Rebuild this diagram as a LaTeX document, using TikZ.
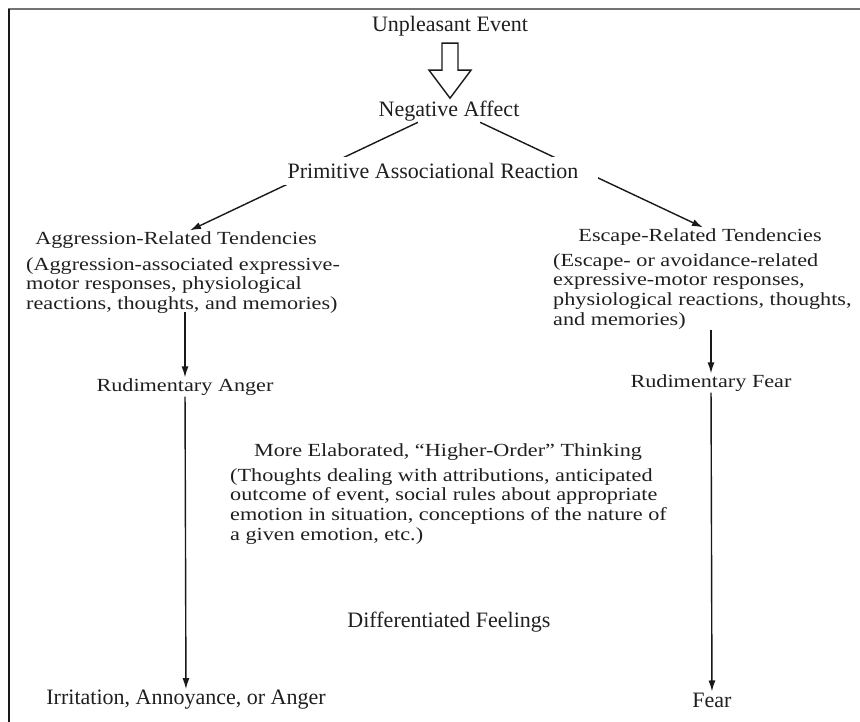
\documentclass[tikz,border=0pt]{standalone}
\usepackage{fontspec}
\usetikzlibrary{arrows.meta}
\newfontfamily\narrowserif{Liberation Serif}
\newfontfamily\bookserif{Liberation Serif}[FakeStretch=1.2]
\begin{document}
\begin{tikzpicture}
		[x=1pt,y=-1pt,
		lbl/.style={font=\narrowserif\fontsize{22}{24}\selectfont,text=black!88,inner sep=1pt},
		head/.style={font=\bookserif\fontsize{18.5}{20}\selectfont,text=black!88,inner sep=1pt},
		note/.style={font=\bookserif\fontsize{18.5}{19.8}\selectfont,text=black!88,align=left,inner sep=1pt,anchor=north west},
		link/.style={black!90,line width=1.4pt},>={Latex[length=11pt,width=7pt]}]
		\useasboundingbox (0,0) rectangle (860,722);
		\draw[black!55,line width=2pt] (8,9)--(860,9);
		\draw[black!90,line width=1.3pt] (9,9)--(9,722);
		\node[lbl,name=ue]at(450,26){Unpleasant Event};
		\node[lbl,name=neg]at(449,111){Negative Affect};
		\node[head,name=agg]at(176,240){Aggression-Related Tendencies};
		\node[note,name=aggnote]at(25,256){(Aggression-associated expressive-\\motor responses, physiological\\reactions, thoughts, and memories)};
		\node[head,name=esc]at(700,237){Escape-Related Tendencies};
		\node[note,name=escnote]at(552,252){(Escape- or avoidance-related\\expressive-motor responses,\\physiological reactions, thoughts,\\and memories)};
		\node[head,name=ranger]at(185,387){Rudimentary Anger};
		\node[head,name=rfear]at(711,383){Rudimentary Fear};
		\node[head,name=think]at(448,452){More Elaborated, “Higher-Order” Thinking};
		\node[note,name=thinknote]at(229,467){(Thoughts dealing with attributions, anticipated\\outcome of event, social rules about appropriate\\emotion in situation, conceptions of the nature of\\a given emotion, etc.)};
		\node[lbl,name=diff]at(449,622){Differentiated Feelings};
		\node[lbl,name=irr]at(186,700){Irritation, Annoyance, or Anger};
		\node[lbl,name=fear]at(712,700){Fear};
		\draw[link,line join=miter] (ue.south) ++(-8,6) -- ++(16,0) -- ++(0,27) -- ++(13,0) -- ++(-21,28) -- ++(-21,-28) -- ++(13,0) -- cycle;
		\draw[link,->] (neg.200)--([xshift=14pt]agg.north);
		\draw[link,->] (neg.340)--([xshift=3pt]esc.north);
		\node[lbl,name=prim,fill=white,inner xsep=20pt,inner ysep=6pt]at(433,171){Primitive Associational Reaction};
		\draw[link,->] ([yshift=3pt]aggnote.south-|ranger.north)--(ranger.north);
		\draw[link,->] ([yshift=1pt]escnote.south-|rfear.north)--(rfear.north);
		\draw[link,->] (ranger)--(irr);
		\draw[link,->] (rfear)--(fear);
	\end{tikzpicture}
\end{document}
